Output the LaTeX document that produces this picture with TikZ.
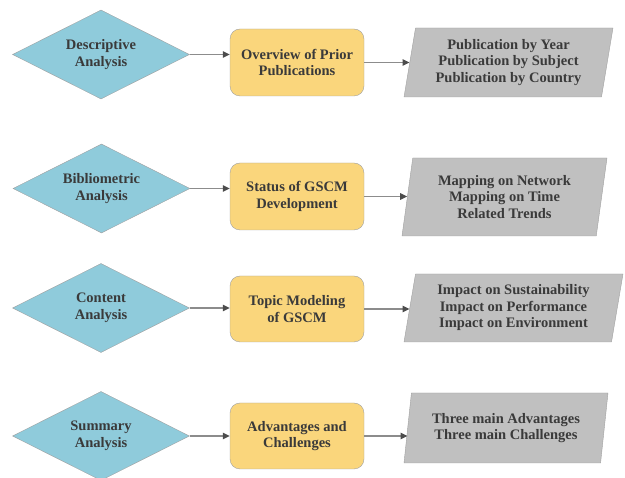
\documentclass[tikz,border=0pt]{standalone}
\usepackage{fontspec}
\setmainfont{Liberation Serif}
\newfontfamily\labelfont{Liberation Serif}
\usepackage{xcolor}
\usepackage{tikz}
\usetikzlibrary{shapes.geometric,arrows.meta,positioning}

\definecolor{methodblue}{HTML}{8FCBDB}
\definecolor{topicyellow}{HTML}{FAD67C}
\definecolor{resultgray}{HTML}{C0C0C0}
\definecolor{bordergray}{HTML}{A0A0A0}
\definecolor{textgray}{HTML}{3A3A3A}

\begin{document}
\begin{tikzpicture}[x=1pt,y=-1pt,
    txt/.style={font=\labelfont\fontsize{14.5}{16.5}\selectfont\bfseries, text=textgray, align=center},
    method/.style={txt, diamond, aspect=2, draw=bordergray, fill=methodblue,
        minimum width=177pt, minimum height=89pt, inner sep=0pt},
    topic/.style={txt, rectangle, rounded corners=10pt, draw=bordergray, fill=topicyellow,
        minimum width=134pt, minimum height=67pt},
    result/.style={txt, trapezium, trapezium left angle=76, trapezium right angle=104,
        trapezium stretches body, draw=bordergray, fill=resultgray,
        minimum width=209pt, minimum height=69pt, inner sep=0pt},
    link/.style={draw=black!45, line width=1.3pt, -{Triangle[length=7pt,width=6.5pt,color=black!70]}}]

    \useasboundingbox (0,0) rectangle (625,478);

    % Analysis methods
    \node[method] (d1) at (101,54.5) {Descriptive\\Analysis};
    \node[method] (d2) at (101.5,188.5) {Bibliometric\\Analysis};
    \node[method] (d3) at (101,308) {Content\\Analysis};
    \node[method] (d4) at (101,436) {Summary\\Analysis};

    % Topics
    \node[topic] (b1) at (297,62.5) {Overview of Prior\\Publications};
    \node[topic] (b2) at (297,196.5) {Status of GSCM\\Development};
    \node[topic, minimum height=66pt] (b3) at (297,309) {Topic Modeling\\of GSCM};
    \node[topic, minimum height=66pt] (b4) at (297,436) {Advantages and\\Challenges};

    % Results
    \node[result] (p1) at (508.5,62.5) {Publication by Year\\Publication by Subject\\Publication by Country};
    \node[result, minimum width=205pt, minimum height=78pt] (p2) at (504.5,197) {Mapping on Network\\Mapping on Time\\Related Trends};
    \node[result, minimum width=219pt, minimum height=68pt] (p3) at (513.5,308) {Impact on Sustainability\\Impact on Performance\\Impact on Environment};
    \node[result, minimum width=204pt, minimum height=70pt] (p4) at (506,428) {Three main Advantages\\Three main Challenges};

    % Method to topic
    \draw[link] (d1.east) -- (d1.east -| b1.west);
    \draw[link] (d2.east) -- (d2.east -| b2.west);
    \draw[link] (d3.east) -- (d3.east -| b3.west);
    \draw[link] (d4.east) -- (d4.east -| b4.west);

    % Topic to results
    \draw[link] (b1.east) -- (b1.east -| p1.west);
    \draw[link] (b2.east) -- (b2.east -| p2.west);
    \draw[link] (b3.east) -- (b3.east -| p3.west);
    \draw[link] (b4.east) -- (b4.east -| p4.west);
\end{tikzpicture}
\end{document}
